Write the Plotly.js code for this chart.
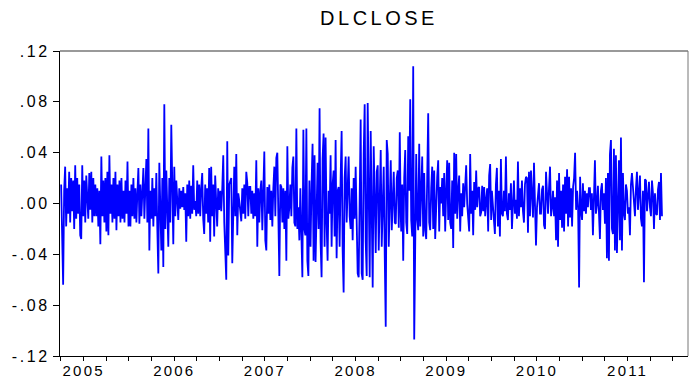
<!DOCTYPE html>
<html>
<head>
<meta charset="utf-8">
<script src="https://cdn.plot.ly/plotly-3.0.1.min.js"></script>
<style>
html,body{margin:0;padding:0;background:#fff;}
#chart{width:690px;height:381px;}
.xtick text{letter-spacing:2.2px;}
.ytick text{letter-spacing:2.6px;}
.gtitle{letter-spacing:3.5px;}
</style>
</head>
<body>
<div id="chart"></div>
<script>
// DLCLOSE: daily log-differences of close
const title = "DLCLOSE";

const r2005 = [.015,-.022,-.064,.010,.029,-.018,.012,-.008,.025,-.015,.020,-.006,.018,-.020,.030,-.012,.020,-.008,.015,-.025,
-.028,.030,-.010,.018,-.015,.022,.008,-.012,.024,-.005,.025,-.015,.020,-.010,.015,-.010,.012,-.018,.010,-.032,
.037,-.010,.018,-.015,.020,-.022,.025,-.025,.038,-.008,.015,-.015,.020,-.012,.025,-.021,.015,-.010,.018,-.015,
.020,-.012,.010,-.015,.018,-.008,.033,-.018];

const r2006 = [.010,-.018,.015,-.010,.020,-.012,.012,-.015,.008,.028,-.016,.015,-.010,.018,.028,-.012,.010,.035,-.015,.059,
-.037,.010,-.012,.020,-.018,.012,-.010,.024,-.020,-.055,.032,-.015,-.037,.020,-.050,.078,-.020,.026,-.010,-.034,
.020,-.015,.062,-.012,-.032,.029,-.010,.018,.005,-.013,.012,-.004,.010,-.003,.013,-.005,.008,-.030,.015,-.010,
.018,-.012,.014,-.008,.030,-.005,.002,-.010,.018,-.008,.015,-.010,.012,.024,-.012,-.024,.015,-.008,.012,-.015,
.028,-.030,.029,-.010,.015,-.026,.022,-.008,-.018,.012,-.005];

const r2007 = [.010,-.006,.012,.038,-.015,-.039,-.060,.049,-.041,.015,.018,.020,-.047,.010,.029,-.010,.039,-.025,.008,.002,
-.010,-.014,.012,-.008,.015,-.012,.025,.016,-.010,.013,.013,-.008,.010,-.012,.008,-.010,.034,-.034,.012,-.015,
.010,.018,-.021,.015,.041,-.029,-.037,.013,-.008,.015,-.013,.010,-.018,.012,.029,-.010,.036,.040,-.026,-.057,
.015,.013,-.015,.012,-.020,.010,-.045,.045,-.012,-.003,.015,-.010,.028,.037,-.015,-.018,.059,-.020,-.003,-.029,
.012,-.028,-.058,.058,-.020,-.025,.059,-.045,-.057,.018];

const r2008 = [-.034,.015,.047,-.045,.038,-.046,.010,.032,-.020,.075,-.030,-.058,.035,.055,-.034,.052,-.015,-.045,.010,-.008,
.038,-.034,.015,.026,-.026,.050,-.043,.010,.013,-.034,.020,.057,-.036,-.070,.020,.037,-.015,.018,.037,-.010,
-.020,.012,-.029,.020,-.012,.029,-.015,-.055,-.058,.030,.066,-.055,-.060,.039,.078,-.030,-.057,.079,-.020,-.058,
.057,-.040,-.066,.045,.010,-.039,.025,.030,-.037,.015,.042,-.034,.010,.029,-.041,-.097,.050,.039,-.034,.010,
.034,-.021,.008,.025,-.015,-.016,.020,.026,-.019,.056,-.010];

const r2009 = [-.022,.015,-.045,.020,.042,-.015,-.024,.053,.010,.082,-.013,-.026,.108,-.107,.003,.039,-.012,-.021,.047,-.018,
.010,.037,-.026,.024,-.021,-.028,.020,.071,-.015,-.021,.012,.029,-.020,.026,-.028,.010,.021,.034,-.022,.013,
.000,.020,-.010,.024,-.022,.010,.034,-.013,.032,-.015,-.020,.018,-.035,.040,-.008,.039,-.012,.010,.022,-.022,
.008,-.010,.016,-.003,.010,.030,.000,-.012,-.022,.039,-.008,.010,-.025,.017,-.005,.026,-.003,.012,.013,-.010,
-.007,.014,-.006,.013,-.010,.003,.012,-.022,.022,.031,-.013];

const r2010 = [.010,.000,-.008,-.024,.015,.028,-.018,.010,-.026,.035,-.008,-.010,.010,-.006,.037,-.008,-.013,.008,-.005,.016,
-.020,.010,.018,-.008,.003,-.012,.033,-.010,.012,-.003,.018,-.006,-.015,.015,.021,.020,-.023,.025,-.010,.026,
.008,-.011,.032,-.015,-.033,-.003,.012,.016,-.008,-.008,.011,.014,-.017,-.020,.025,.008,-.008,.012,.029,-.010,
-.003,.010,-.010,.005,-.029,.018,-.034,.024,-.013,.010,-.019,.015,-.022,.021,-.008,.027,-.018,.021,-.011,.012,
-.018,.013,.020,.040,-.005,.010,-.003,-.066,.021,-.006,-.013];

const r2011 = [.016,-.006,.010,-.008,.008,-.003,.012,.012,-.005,.008,-.025,.010,.034,-.008,-.001,.014,-.010,-.028,.010,.016,
-.005,.008,-.016,.020,-.043,.024,-.045,.039,.050,-.020,-.024,.043,-.037,.038,-.039,.015,.034,-.029,.052,-.037,
.024,-.008,-.013,.015,.010,-.008,-.003,-.025,.015,.024,.010,-.006,-.010,.012,.025,-.005,.006,.022,-.012,-.018,
.010,-.062,.019,.018,-.006,.012,.017,-.003,-.010,.018,.008,-.020,.008,-.008,-.009,.011,.017,-.013,.024,-.010];

// observation spans per year (decimal years, first and last trading day)
const years = [2005, 2006, 2007, 2008, 2009, 2010, 2011];
const yearSeries = [r2005, r2006, r2007, r2008, r2009, r2010, r2011];
const firstObs = [2005.252, 2006.005, 2007.007, 2008.003, 2009.003, 2010.003, 2011.007];
const lastObs  = [2005.995, 2006.995, 2007.990, 2008.998, 2009.995, 2010.998, 2011.879];

const yTickVals = [0.12, 0.08, 0.04, 0.00, -0.04, -0.08, -0.12];
const yTickText = [".12", ".08", ".04", ".00", "-.04", "-.08", "-.12"];
const xLabels = ["2005", "2006", "2007", "2008", "2009", "2010", "2011"];

const xs = [], ys = [];
yearSeries.forEach((vals, k) => {
  const a = firstObs[k], b = lastObs[k], n = vals.length;
  vals.forEach((v, i) => {
    xs.push(a + (n > 1 ? i * (b - a) / (n - 1) : 0));
    ys.push(v);
  });
});

const xRange = [2005.2395, 2012.166];
const FONT = "Liberation Sans, Arial, Helvetica, sans-serif";

const trace = {
  x: xs, y: ys, type: "scatter", mode: "lines",
  line: {color: "#0000FF", width: 1.8},
  hoverinfo: "skip", showlegend: false
};

const layout = {
  width: 690, height: 381,
  margin: {l: 60, r: 2, t: 51, b: 25, pad: 0},
  paper_bgcolor: "#ffffff", plot_bgcolor: "#ffffff",
  font: {family: FONT, size: 16, color: "#000"},
  title: {text: title, font: {family: FONT, size: 20, color: "#000"},
          xref: "paper", x: 0.508, xanchor: "center",
          yref: "container", y: 0.953, yanchor: "middle"},
  xaxis: {
    range: xRange, showgrid: false, zeroline: false,
    showline: true, linecolor: "#000", linewidth: 1,
    tickmode: "array", tickvals: years.map(y => y + 0.5), ticktext: xLabels,
    ticks: "outside", ticklen: 4, tickcolor: "#000", tickwidth: 1,
    ticklabelstandoff: -3,
    tickfont: {family: FONT, size: 15, color: "#000"},
    minor: {tick0: 2005, dtick: 0.25, ticks: "outside", ticklen: 4, tickcolor: "#000", tickwidth: 1, showgrid: false}
  },
  xaxis2: {
    overlaying: "x", anchor: "y", side: "bottom",
    range: xRange, showgrid: false, zeroline: false, showline: false,
    tickmode: "array", tickvals: [2006, 2007, 2008, 2009, 2010, 2011, 2012],
    showticklabels: false, ticks: "outside", ticklen: 7, tickcolor: "#000", tickwidth: 1
  },
  yaxis: {
    range: [-0.12, 0.12], showgrid: false, zeroline: false,
    showline: true, linecolor: "#000", linewidth: 1,
    tickmode: "array", tickvals: yTickVals, ticktext: yTickText,
    ticks: "outside", ticklen: 6, tickcolor: "#000", tickwidth: 1,
    tickfont: {family: FONT, size: 16, color: "#000"}
  },
  shapes: [
    {type: "line", xref: "paper", yref: "paper", x0: 0, x1: 1, y0: 1, y1: 1, line: {color: "#777", width: 1.5}},
    {type: "line", xref: "paper", yref: "paper", x0: 1, x1: 1, y0: 0, y1: 1, line: {color: "#777", width: 1}}
  ]
};

Plotly.newPlot("chart", [trace], layout, {displayModeBar: false, staticPlot: true});
</script>
</body>
</html>
